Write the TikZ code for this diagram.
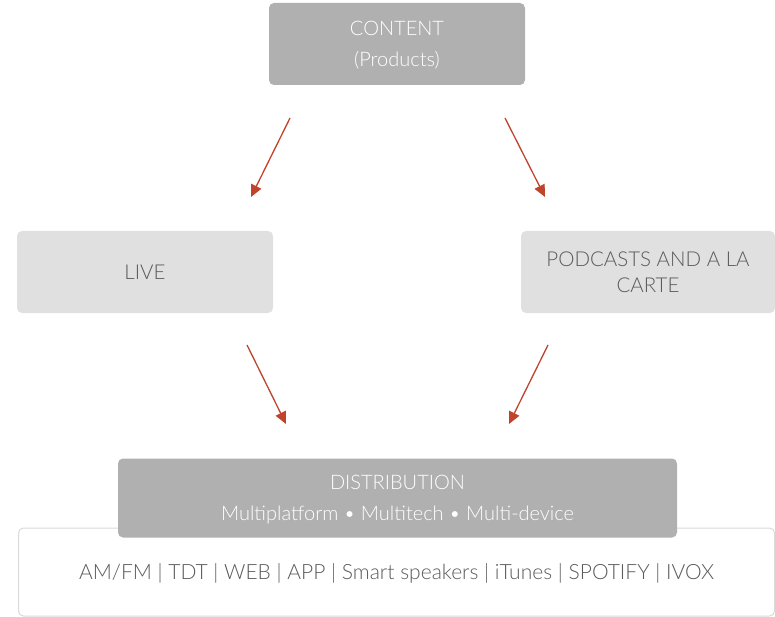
\documentclass[tikz,border=0pt]{standalone}
\usepackage{fontspec}
\setmainfont{Lato Light}
\usepackage{tikz}
\usetikzlibrary{positioning,arrows.meta}
\definecolor{boxdark}{HTML}{B0B0B0}
\definecolor{boxlight}{HTML}{E0E0E0}
\definecolor{textgray}{HTML}{5A5A5A}
\definecolor{arrowred}{HTML}{C0432B}
\definecolor{framegray}{HTML}{DADADA}
\tikzset{dark node/.style={rectangle,rounded corners=5pt,fill=boxdark,text=white,align=center,inner sep=0pt,text depth=0pt,font=\fontsize{20}{31}\selectfont},
light node/.style={rectangle,rounded corners=5pt,fill=boxlight,text=textgray,align=center,inner sep=0pt,font=\fontsize{20.5}{26}\selectfont},
flow arrow/.style={draw=arrowred,line width=1.3pt,-{Triangle[length=12pt,width=11pt,fill=arrowred]}},}

\begin{document}
\begin{tikzpicture}[x=1pt,y=-1pt]
    \useasboundingbox (0,0) rectangle (775,617);

    \node[rectangle,rounded corners=5pt,draw=framegray,line width=1pt,fill=white,minimum width=756pt,minimum height=88pt,text=textgray,text depth=0pt,font=\fontsize{21}{22}\selectfont] (platforms) at (396.5,572) {AM/FM | TDT | WEB | APP | Smart speakers | iTunes | SPOTIFY | IVOX};
    \node[dark node,minimum width=559pt,minimum height=79pt] (distribution) at (397.5,498) {DISTRIBUTION\\Multiplatform • Multitech • Multi-device};

    \node[dark node,minimum width=256pt,minimum height=82pt] (content) at (397,44) {CONTENT\\(Products)};
    \node[light node,minimum width=256pt,minimum height=82pt] (live) at (145,272) {LIVE};
    \node[light node,minimum width=254pt,minimum height=82pt] (podcasts) at (648,272) {PODCASTS AND A LA\\CARTE};

    % arrow ends
    \coordinate (c1) at (290,118);
    \coordinate (l1) at (251,197);
    \coordinate (c2) at (505,118);
    \coordinate (p1) at (545,197);
    \coordinate (l2) at (247,345);
    \coordinate (d1) at (286,424);
    \coordinate (p2) at (548,345);
    \coordinate (d2) at (509,424);

    \draw[flow arrow] (c1) -- (l1);
    \draw[flow arrow] (c2) -- (p1);
    \draw[flow arrow] (l2) -- (d1);
    \draw[flow arrow] (p2) -- (d2);
\end{tikzpicture}
\end{document}
